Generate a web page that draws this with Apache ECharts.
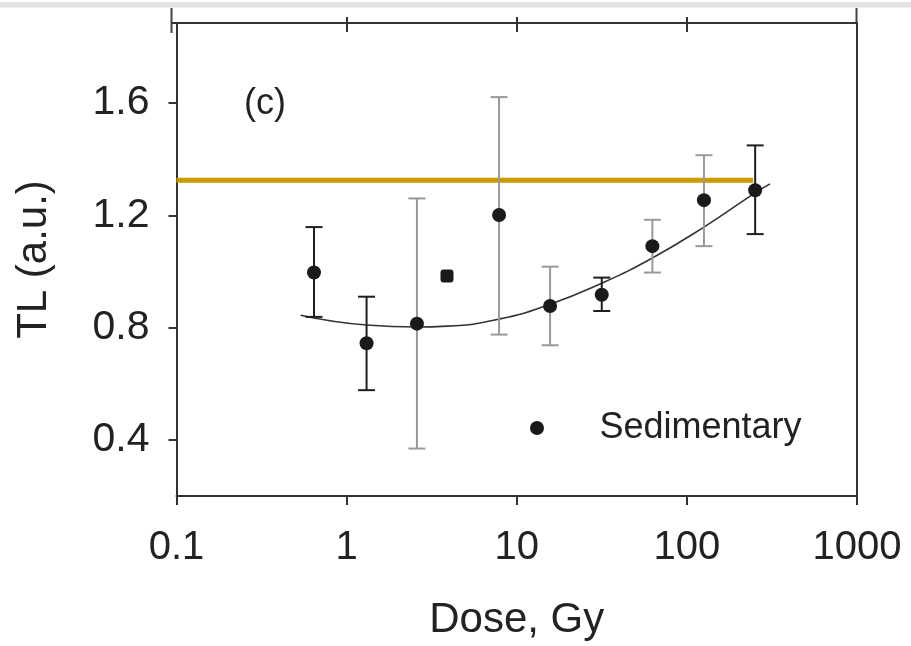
<!DOCTYPE html>
<html>
<head>
<meta charset="utf-8">
<script src="https://cdn.jsdelivr.net/npm/echarts@6/dist/echarts.min.js"></script>
<style>
html,body{margin:0;padding:0;background:#fff;}
#chart{width:911px;height:646px;}
</style>
</head>
<body>
<div id="chart"></div>
<script>
// ---- data ----
const doses   = [0.643, 1.31, 2.59, 7.87, 15.7, 31.6, 62.7, 126, 252];
const tlValues = [0.996, 0.744, 0.814, 1.201, 0.877, 0.917, 1.090, 1.254, 1.289];
const errLow  = [0.838, 0.577, 0.369, 0.775, 0.737, 0.859, 0.996, 1.090, 1.133];
const errHigh = [1.158, 0.910, 1.260, 1.621, 1.017, 0.978, 1.184, 1.414, 1.449];
const errGray = [false, false, true, true, true, false, true, true, false];
const squareDose = [3.89];
const squareTL = [0.984];
const fitDose = [0.537, 1.31, 2.59, 3.89, 7.87, 15.7, 31.6, 62.7, 126, 252, 308];
const fitTL   = [0.844, 0.809, 0.802, 0.805, 0.830, 0.883, 0.958, 1.048, 1.158, 1.280, 1.312];
const refDose = [0.1, 245];
const refTL   = [1.325, 1.325];
const xTicks = [0.1, 1, 10, 100, 1000];
const yTicks = [0.4, 0.8, 1.2, 1.6];
const xName = 'Dose, Gy';
const yName = 'TL (a.u.)';
const seriesName = 'Sedimentary';
const panelLabel = '(c)';

const FONT = '"Liberation Sans", Arial, Helvetica, sans-serif';
const chart = echarts.init(document.getElementById('chart'));

function errData(gray){
  const out = [];
  doses.forEach((d,i)=>{ if(errGray[i]===gray) out.push([d, errLow[i], errHigh[i]]); });
  return out;
}
function errSeries(gray, color){
  return {
    type:'custom', silent:true, z:3,
    data: errData(gray),
    encode:{x:0, y:[1,2]},
    renderItem:function(params, api){
      const x = api.value(0);
      const top = api.coord([x, api.value(2)]);
      const bot = api.coord([x, api.value(1)]);
      const hw = 8.5;
      const st = {stroke:color, lineWidth:2};
      return {type:'group', children:[
        {type:'line', shape:{x1:top[0],y1:top[1],x2:bot[0],y2:bot[1]}, style:st},
        {type:'line', shape:{x1:top[0]-hw,y1:top[1],x2:top[0]+hw,y2:top[1]}, style:st},
        {type:'line', shape:{x1:bot[0]-hw,y1:bot[1],x2:bot[0]+hw,y2:bot[1]}, style:st}
      ]};
    }
  };
}

const axisLineStyle = {color:'#333', width:2};

chart.setOption({
  animation:false,
  backgroundColor:'#fff',
  grid:{left:176.5, right:54, top:23, bottom:149, containLabel:false},
  legend:{
    data:[seriesName], left:530, top:410, padding:0,
    icon:'circle', itemWidth:115, itemHeight:14,
    textStyle:{fontFamily:FONT, fontSize:36, color:'#222'}
  },
  xAxis:[{
    type:'log', logBase:10, min:0.1, max:1000, position:'bottom',
    name:xName, nameLocation:'middle', nameGap:103,
    nameTextStyle:{fontFamily:FONT, fontSize:42, color:'#222'},
    axisLine:{show:true, lineStyle:axisLineStyle},
    axisTick:{show:true, inside:false, length:9, lineStyle:{color:'#333', width:2}, customValues:xTicks},
    axisLabel:{show:true, margin:32, fontFamily:FONT, fontSize:40, color:'#222', customValues:xTicks,
      formatter:function(v){ return v < 1 ? v.toFixed(1) : String(Math.round(v)); }},
    splitLine:{show:false}, minorTick:{show:false}
  },{
    type:'log', logBase:10, min:0.1, max:1000, position:'top', offset:0,
    axisLine:{show:true, lineStyle:axisLineStyle},
    axisTick:{show:true, inside:true, length:9, lineStyle:{color:'#333', width:2}, customValues:[1,10,100]},
    axisLabel:{show:false}, splitLine:{show:false}
  },{
    type:'log', logBase:10, min:0.1, max:1000, position:'top', offset:0,
    axisLine:{show:false},
    axisTick:{show:true, inside:false, length:6, lineStyle:{color:'#333', width:2}, customValues:[1,10,100]},
    axisLabel:{show:false}, splitLine:{show:false}
  }],
  yAxis:[{
    type:'value', min:0.2, max:1.885, position:'left',
    name:yName, nameLocation:'middle', nameGap:121, nameRotate:90,
    nameTextStyle:{fontFamily:FONT, fontSize:42, color:'#222'},
    axisLine:{show:true, lineStyle:axisLineStyle},
    axisTick:{show:true, inside:false, length:8, lineStyle:{color:'#333', width:2}, customValues:yTicks},
    axisLabel:{show:true, margin:27, fontFamily:FONT, fontSize:41, color:'#222', customValues:yTicks,
      formatter:function(v){ return v.toFixed(1); }},
    splitLine:{show:false}
  },{
    type:'value', min:0.2, max:1.885, position:'right',
    axisLine:{show:true, lineStyle:axisLineStyle},
    axisTick:{show:false}, axisLabel:{show:false}, splitLine:{show:false}
  }],
  graphic:[
    {type:'rect', left:0, top:2, shape:{width:911, height:5.5}, style:{fill:'#e2e2e2'}, silent:true},
    {type:'line', shape:{x1:171.5,y1:8,x2:171.5,y2:33}, style:{stroke:'#444', lineWidth:2}, silent:true},
    {type:'line', shape:{x1:171.5,y1:23,x2:177,y2:23}, style:{stroke:'#333', lineWidth:2}, silent:true},
    {type:'line', shape:{x1:856.5,y1:8,x2:856.5,y2:24}, style:{stroke:'#444', lineWidth:2}, silent:true},
    {type:'text', left:244, top:86, style:{text:panelLabel, fontFamily:FONT, fontSize:36, fill:'#222'}, silent:true}
  ],
  series:[
    {
      type:'line', name:'ref', data:refDose.map((d,i)=>[d, refTL[i]]),
      showSymbol:false, symbol:'none', z:2, silent:true,
      lineStyle:{color:'#cc9a00', width:5}
    },
    {
      type:'line', name:'fit', data:fitDose.map((d,i)=>[d, fitTL[i]]),
      smooth:0.5, showSymbol:false, symbol:'none', z:2, silent:true,
      lineStyle:{color:'#333', width:1.6}
    },
    errSeries(true, '#999999'),
    errSeries(false, '#1e1e1e'),
    {
      type:'scatter', name:seriesName, data:doses.map((d,i)=>[d, tlValues[i]]),
      symbol:'circle', symbolSize:14, z:5,
      itemStyle:{color:'#1a1a1a', opacity:1}
    },
    {
      type:'scatter', name:'square', data:squareDose.map((d,i)=>[d, squareTL[i]]),
      symbol:'roundRect', symbolSize:13, z:5,
      itemStyle:{color:'#1a1a1a', opacity:1}
    }
  ]
});
</script>
</body>
</html>
